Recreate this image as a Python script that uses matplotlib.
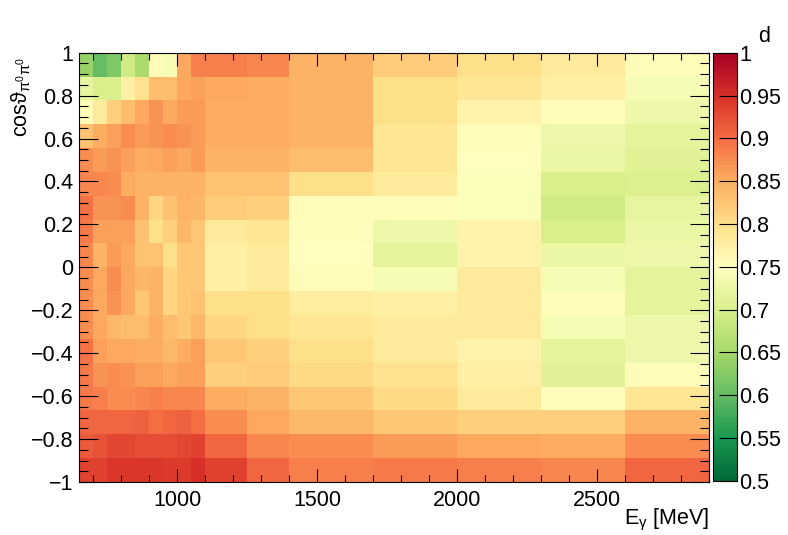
import numpy as np
import matplotlib
matplotlib.use("Agg")
import matplotlib.pyplot as plt
from matplotlib.ticker import MultipleLocator, FuncFormatter

plt.rcParams["font.family"] = ["Liberation Sans", "DejaVu Sans"]
plt.rcParams["mathtext.fontset"] = "custom"
plt.rcParams["mathtext.rm"] = "Liberation Sans"
plt.rcParams["mathtext.it"] = "Liberation Sans:italic"

# photon energy bin edges [MeV] and cos(theta) bin edges
e_edges = [650, 700, 750, 800, 850, 900, 950, 1000, 1050, 1100,
           1250, 1400, 1700, 2000, 2300, 2600, 2900]
cos_edges = np.linspace(-1, 1, 19)

# d values, rows from cos = +1 (top) down to cos = -1 (bottom)
d_rows = [
    [0.64, 0.60, 0.62, 0.69, 0.655, 0.755, 0.74, 0.855, 0.885, 0.885, 0.88, 0.845, 0.82, 0.80, 0.785, 0.755],
    [0.72, 0.70, 0.70, 0.775, 0.795, 0.835, 0.835, 0.855, 0.86, 0.855, 0.85, 0.845, 0.80, 0.79, 0.775, 0.74],
    [0.755, 0.785, 0.815, 0.835, 0.855, 0.87, 0.855, 0.865, 0.865, 0.85, 0.85, 0.845, 0.80, 0.77, 0.755, 0.73],
    [0.83, 0.85, 0.86, 0.875, 0.865, 0.87, 0.875, 0.87, 0.865, 0.85, 0.85, 0.845, 0.79, 0.755, 0.73, 0.715],
    [0.875, 0.865, 0.87, 0.86, 0.85, 0.855, 0.86, 0.855, 0.865, 0.845, 0.845, 0.835, 0.79, 0.75, 0.725, 0.71],
    [0.88, 0.88, 0.875, 0.85, 0.845, 0.845, 0.845, 0.845, 0.845, 0.83, 0.83, 0.80, 0.785, 0.745, 0.70, 0.705],
    [0.895, 0.87, 0.87, 0.875, 0.845, 0.81, 0.83, 0.845, 0.84, 0.82, 0.815, 0.755, 0.755, 0.745, 0.69, 0.72],
    [0.89, 0.86, 0.86, 0.86, 0.83, 0.80, 0.815, 0.84, 0.825, 0.785, 0.79, 0.752, 0.73, 0.77, 0.70, 0.725],
    [0.88, 0.845, 0.865, 0.855, 0.83, 0.83, 0.80, 0.825, 0.825, 0.775, 0.785, 0.75, 0.715, 0.77, 0.725, 0.73],
    [0.875, 0.855, 0.875, 0.855, 0.84, 0.845, 0.81, 0.825, 0.825, 0.775, 0.785, 0.755, 0.74, 0.785, 0.74, 0.715],
    [0.875, 0.855, 0.87, 0.855, 0.825, 0.845, 0.81, 0.825, 0.83, 0.80, 0.80, 0.78, 0.775, 0.785, 0.755, 0.715],
    [0.875, 0.855, 0.84, 0.835, 0.835, 0.85, 0.835, 0.825, 0.84, 0.81, 0.80, 0.79, 0.785, 0.785, 0.74, 0.73],
    [0.895, 0.86, 0.855, 0.855, 0.85, 0.85, 0.84, 0.85, 0.86, 0.825, 0.815, 0.80, 0.785, 0.77, 0.715, 0.73],
    [0.89, 0.87, 0.875, 0.87, 0.86, 0.86, 0.855, 0.86, 0.86, 0.815, 0.82, 0.805, 0.795, 0.775, 0.71, 0.755],
    [0.89, 0.885, 0.875, 0.875, 0.88, 0.885, 0.88, 0.88, 0.88, 0.85, 0.845, 0.825, 0.805, 0.785, 0.752, 0.79],
    [0.905, 0.905, 0.905, 0.905, 0.91, 0.90, 0.905, 0.91, 0.90, 0.875, 0.855, 0.84, 0.825, 0.815, 0.815, 0.845],
    [0.915, 0.92, 0.93, 0.93, 0.925, 0.925, 0.925, 0.93, 0.935, 0.905, 0.88, 0.875, 0.865, 0.855, 0.85, 0.875],
    [0.935, 0.935, 0.945, 0.945, 0.945, 0.945, 0.94, 0.94, 0.95, 0.935, 0.905, 0.885, 0.89, 0.885, 0.88, 0.905],
]
d = np.array(d_rows)[::-1]          # bottom row first for pcolormesh

FS = 15.5


def fmt(v, _):
    s = f"{round(v, 3):g}"
    return s.replace("-", "\u2212")


fig = plt.figure(figsize=(7.88, 5.35), dpi=100)
ax = fig.add_axes([0.1003, 0.0991, 0.7998, 0.8024])
cax = fig.add_axes([0.9045, 0.1015, 0.0305, 0.7999])

mesh = ax.pcolormesh(e_edges, cos_edges, d, cmap="RdYlGn_r", vmin=0.5, vmax=1.0,
                     shading="flat", edgecolors="none", antialiased=False)
ax.set_xlim(650, 2900); ax.set_ylim(-1, 1)

ax.xaxis.set_major_locator(MultipleLocator(500)); ax.xaxis.set_minor_locator(MultipleLocator(100))
ax.yaxis.set_major_locator(MultipleLocator(0.2)); ax.yaxis.set_minor_locator(MultipleLocator(0.05))
ax.yaxis.set_major_formatter(FuncFormatter(fmt))
ax.tick_params(axis="both", which="both", direction="in", top=True, right=True,
               labelsize=FS, width=0.8, color="black")
ax.tick_params(axis="x", which="major", length=9.4, pad=6)
ax.tick_params(axis="x", which="minor", length=4.7)
ax.tick_params(axis="y", which="major", length=13.5, pad=4)
ax.tick_params(axis="y", which="minor", length=6.8)
for s in ax.spines.values():
    s.set_linewidth(0.8)

cb = fig.colorbar(mesh, cax=cax)
cb.set_ticks(np.arange(0.5, 1.001, 0.05))
cb.ax.yaxis.set_major_formatter(FuncFormatter(fmt))
cb.ax.tick_params(direction="in", length=13, width=0.8, labelsize=FS, pad=2)
cb.ax.minorticks_off()
cb.outline.set_linewidth(0.8)

fig.text(709 / 788, 1 - 524 / 535, r"E$_{\mathrm{\gamma}}$ [MeV]", ha="right",
         va="baseline", fontsize=FS)
fig.text(21.5 / 788, 1 - 57 / 535, r"cos$\mathrm{\vartheta}_{\mathrm{\pi^{0}\pi^{0}}}$",
         rotation=90, ha="center", va="top", fontsize=FS)
fig.text(764 / 788, 1 - 42 / 535, "d", ha="center", va="baseline", fontsize=FS)

fig.savefig("out.png", dpi=100)
